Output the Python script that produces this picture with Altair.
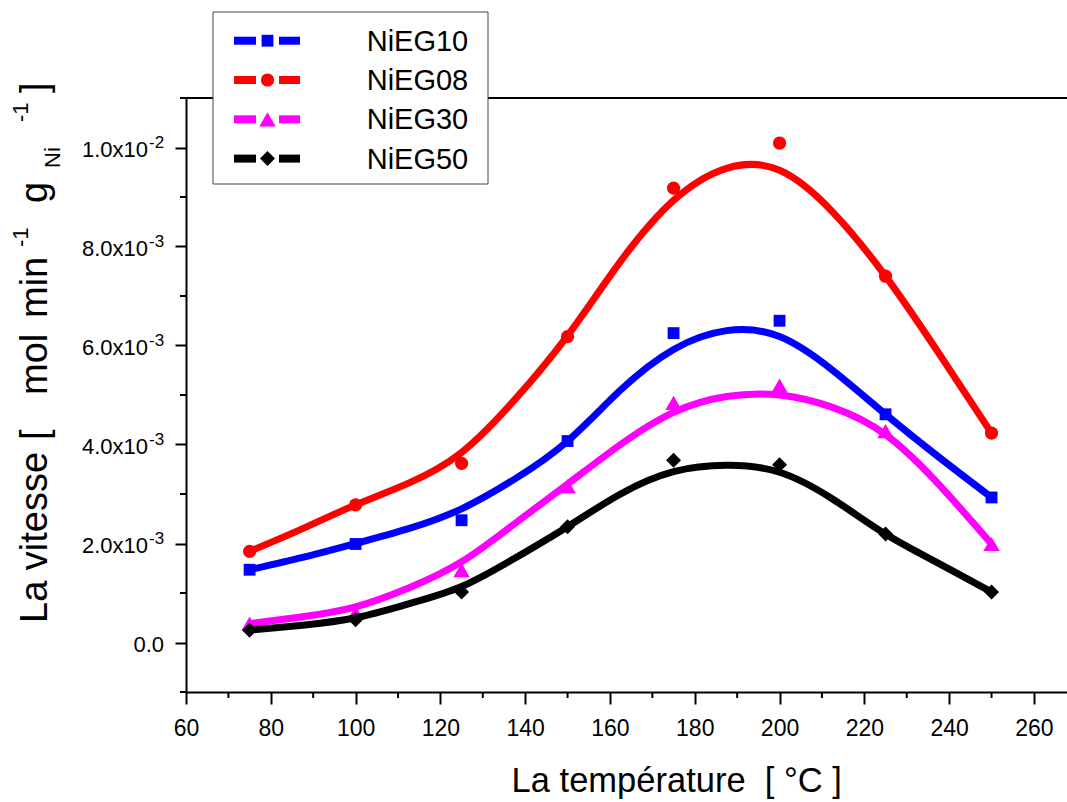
import altair as alt
import pandas as pd

# Series definitions
series = ["NiEG10", "NiEG08", "NiEG30", "NiEG50"]
colors = ["#0000ff", "#ff0000", "#ff00ff", "#000000"]
shapes = ["square", "circle", "triangle-up", "diamond"]
marker_sizes = [140, 175, 270, 225]

# Measured rates (mol min^-1 g_Ni^-1) versus temperature (°C)
temps = [75, 100, 125, 150, 175, 200, 225, 250]
rate_10 = [1.47e-3, 1.99e-3, 2.47e-3, 4.07e-3, 6.25e-3, 6.50e-3, 4.61e-3, 2.93e-3]
rate_08 = [1.84e-3, 2.78e-3, 3.62e-3, 6.18e-3, 9.18e-3, 10.09e-3, 7.40e-3, 4.23e-3]
rate_30 = [0.38e-3, 0.60e-3, 1.46e-3, 3.16e-3, 4.84e-3, 5.19e-3, 4.27e-3, 1.99e-3]
rate_50 = [0.25e-3, 0.46e-3, 1.02e-3, 2.34e-3, 3.68e-3, 3.59e-3, 2.19e-3, 1.02e-3]

# Fitted curves, sampled along the temperature range (units of 1e-3)
fit_temps = [75, 87.5, 100, 112.5, 125, 137.5, 150, 162.5, 175, 187.5, 200, 212.5, 225, 237.5, 250]
fit_10 = [1.47, 1.72, 2.00, 2.30, 2.70, 3.30, 4.07, 5.10, 5.92, 6.30, 6.18, 5.50, 4.61, 3.75, 2.93]
fit_08 = [1.84, 2.30, 2.78, 3.22, 3.84, 4.90, 6.20, 7.70, 8.93, 9.58, 9.54, 8.70, 7.40, 5.85, 4.23]
fit_30 = [0.38, 0.52, 0.72, 1.10, 1.63, 2.40, 3.20, 4.00, 4.65, 4.97, 5.00, 4.75, 4.20, 3.20, 1.99]
fit_50 = [0.25, 0.35, 0.50, 0.78, 1.13, 1.70, 2.34, 3.00, 3.45, 3.58, 3.44, 2.90, 2.19, 1.60, 1.02]
fit_scale = 1e-3

rates = [rate_10, rate_08, rate_30, rate_50]
fits = [fit_10, fit_08, fit_30, fit_50]

# Axis ticks
x_major = [60, 80, 100, 120, 140, 160, 180, 200, 220, 240, 260]
x_minor = [70, 90, 110, 130, 150, 170, 190, 210, 230, 250]
y_major = [0.0, 0.002, 0.004, 0.006, 0.008, 0.010]
y_minor = [-0.001, 0.001, 0.003, 0.005, 0.007, 0.009, 0.011]
y_label_base = ["0.0", "2.0x10", "4.0x10", "6.0x10", "8.0x10", "1.0x10"]
y_label_sup = ["", "-3", "-3", "-3", "-3", "-2"]

W, H = 881, 594
FONT = "Liberation Sans"
NBSP = "\u00a0"

xscale = alt.Scale(domain=[60, 267.8], nice=False, zero=False)
yscale = alt.Scale(domain=[-0.001, 0.011], nice=False, zero=False)

x_axis = alt.Axis(values=x_major, tickSize=12, tickWidth=2, tickColor="black",
                  domainWidth=2, domainColor="black", labelFontSize=23,
                  labelFont=FONT, labelColor="black", labelPadding=13,
                  grid=False, title=None, labelFlush=False)
y_axis = alt.Axis(values=y_major, tickSize=11, tickWidth=2, tickColor="black",
                  domainWidth=2, domainColor="black", labels=False,
                  grid=False, title=None)

layers = []

# Axis scaffolding on the first layer
base_df = pd.DataFrame({"T": [60], "v": [0.0]})
layers.append(
    alt.Chart(base_df).mark_point(opacity=0).encode(
        x=alt.X("T:Q", scale=xscale, axis=x_axis),
        y=alt.Y("v:Q", scale=yscale, axis=y_axis),
    )
)

# Minor ticks
layers.append(
    alt.Chart(pd.DataFrame({"T": x_minor})).mark_rule(color="black", strokeWidth=2).encode(
        x=alt.X("T:Q", scale=xscale), y=alt.value(H), y2=alt.value(H + 6)
    )
)
layers.append(
    alt.Chart(pd.DataFrame({"v": y_minor})).mark_rule(color="black", strokeWidth=2).encode(
        y=alt.Y("v:Q", scale=yscale), x=alt.value(-6), x2=alt.value(0)
    )
)

# Top frame line
layers.append(
    alt.Chart(base_df).mark_rule(color="black", strokeWidth=2).encode(
        x=alt.value(0), x2=alt.value(W), y=alt.value(0)
    )
)

# Y tick labels with superscript exponents
ylab = pd.DataFrame({"v": y_major, "base": y_label_base, "sup": y_label_sup})
layers.append(
    alt.Chart(ylab).transform_filter("datum.sup != ''").mark_text(
        align="right", baseline="middle", fontSize=22, font=FONT, color="black", dy=2
    ).encode(y=alt.Y("v:Q", scale=yscale), x=alt.value(-38), text="base:N")
)
layers.append(
    alt.Chart(ylab).transform_filter("datum.sup != ''").mark_text(
        align="left", baseline="middle", fontSize=17, font=FONT, color="black", dy=-5
    ).encode(y=alt.Y("v:Q", scale=yscale), x=alt.value(-37), text="sup:N")
)
layers.append(
    alt.Chart(ylab).transform_filter("datum.sup == ''").mark_text(
        align="right", baseline="middle", fontSize=22, font=FONT, color="black", dy=2
    ).encode(y=alt.Y("v:Q", scale=yscale), x=alt.value(-22), text="base:N")
)

# Fitted curves and measured points
for name, col, shp, sz, r, f in zip(series, colors, shapes, marker_sizes, rates, fits):
    fdf = pd.DataFrame({"T": fit_temps, "v": [val * fit_scale for val in f]})
    pdf = pd.DataFrame({"T": temps, "v": r})
    layers.append(
        alt.Chart(fdf).mark_line(color=col, strokeWidth=7, interpolate="natural").encode(
            x=alt.X("T:Q", scale=xscale), y=alt.Y("v:Q", scale=yscale)
        )
    )
    layers.append(
        alt.Chart(pdf).mark_point(shape=shp, filled=True, opacity=1, color=col, size=sz).encode(
            x=alt.X("T:Q", scale=xscale), y=alt.Y("v:Q", scale=yscale)
        )
    )

# Legend box
layers.append(
    alt.Chart(base_df).mark_rect(fill="white", stroke="#444444", strokeWidth=1).encode(
        x=alt.value(27), x2=alt.value(302), y=alt.value(-86), y2=alt.value(86)
    )
)
row_y0, row_step = -57.3, 39.3
for i, (name, col, shp, sz) in enumerate(zip(series, colors, shapes, marker_sizes)):
    ry = row_y0 + i * row_step
    for xa, xb in [(48, 70), (93, 114)]:
        layers.append(
            alt.Chart(base_df).mark_rule(color=col, strokeWidth=8, strokeCap="butt").encode(
                x=alt.value(xa), x2=alt.value(xb), y=alt.value(ry)
            )
        )
    layers.append(
        alt.Chart(base_df).mark_point(shape=shp, filled=True, opacity=1, color=col, size=sz).encode(
            x=alt.value(81.5), y=alt.value(ry)
        )
    )
    layers.append(
        alt.Chart(pd.DataFrame({"label": [name]})).mark_text(
            align="left", baseline="middle", fontSize=29, font=FONT, color="black"
        ).encode(x=alt.value(180.7), y=alt.value(ry + 1), text="label:N")
    )

# Axis titles
layers.append(
    alt.Chart(pd.DataFrame({"t": ["La température" + NBSP + NBSP + "[ °C ]"]})).mark_text(
        align="center", baseline="alphabetic", fontSize=34.5, font=FONT, color="black"
    ).encode(x=alt.value(490.7), y=alt.value(694), text="t:N")
)

ytitle_parts = [
    # text, font size, baseline x, start y (all rotated to read upwards)
    ("La vitesse", 38, -139, 525),
    ("[", 38, -139, 342),
    ("mol", 38, -139, 297),
    ("min", 38, -139, 220),
    ("-1", 22, -158, 149),
    ("g", 38, -139, 105),
    ("Ni", 22, -126, 70),
    ("-1", 22, -158, 24),
    ("]", 38, -139, -5),
]
for txt, fs, bx, sy in ytitle_parts:
    layers.append(
        alt.Chart(pd.DataFrame({"t": [txt]})).mark_text(
            align="left", baseline="alphabetic", fontSize=fs, font=FONT, color="black", angle=270
        ).encode(x=alt.value(bx), y=alt.value(sy), text="t:N")
    )

chart = alt.layer(*layers).properties(
    width=W, height=H,
    autosize=alt.AutoSizeParams(type="none"),
    padding={"left": 186, "top": 98, "right": 0, "bottom": 110},
).configure_view(stroke=None).configure(background="white")

chart.save("out.html", embed_options={"renderer": "svg", "actions": False})
